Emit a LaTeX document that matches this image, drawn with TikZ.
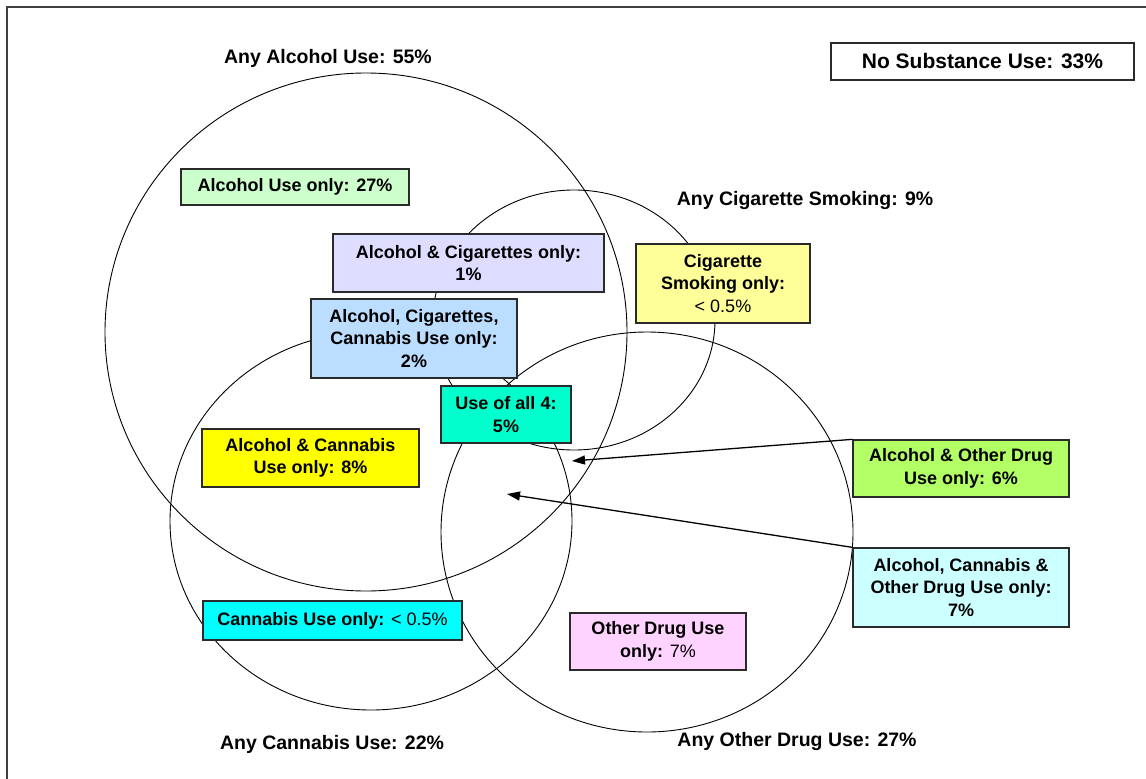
\documentclass[tikz,border=0pt]{standalone}
\usepackage{fontspec}
\setmainfont{Liberation Sans}
\usetikzlibrary{arrows.meta}
\definecolor{cAlcOnly}{HTML}{CCFFCC}
\definecolor{cAlcCig}{HTML}{DDDDFF}
\definecolor{cAlcCigCan}{HTML}{BBDDFF}
\definecolor{cAll}{HTML}{00FFCC}
\definecolor{cCig}{HTML}{FFFF99}
\definecolor{cAlcCan}{HTML}{FFFF00}
\definecolor{cAlcOther}{HTML}{B3FF66}
\definecolor{cAlcCanOther}{HTML}{CCFFFF}
\definecolor{cCan}{HTML}{00FFFF}
\definecolor{cOther}{HTML}{FFD3FF}
\definecolor{frameclr}{HTML}{404040}
\definecolor{boxline}{HTML}{2A2A2A}
\tikzset{
  setbox/.style={draw=boxline, line width=1.3pt, rectangle, inner sep=0pt, align=center,
    font=\fontsize{18}{22.5}\selectfont\bfseries},
  outerlabel/.style={inner sep=0pt, font=\fontsize{19.5}{23}\selectfont\bfseries},
  ring/.style={draw=black, line width=0.9pt},
  arr/.style={draw=black, line width=1.3pt, -{Triangle[length=13pt,width=9pt]}},
}
\begin{document}
\begin{tikzpicture}[x=1pt,y=-1pt]
\useasboundingbox (0,0) rectangle (1146,779);
\fill[white] (0,0) rectangle (1146,779);
% frame
\draw[frameclr, line width=2pt] (7,790) -- (7,7) -- (1160,7);
% sets
\draw[ring] (366,332) ellipse [x radius=261pt, y radius=259pt];
\draw[ring] (574,320) ellipse [x radius=141pt, y radius=130pt];
\draw[ring] (371,521) ellipse [x radius=201pt, y radius=189pt];
\draw[ring] (647,532) ellipse [x radius=206pt, y radius=200pt];
% outer labels
\node[outerlabel] (lalc) at (328,58) {Any Alcohol Use: 55\%};
\node[outerlabel] (lcig) at (805,200) {Any Cigarette Smoking: 9\%};
\node[outerlabel] (lcan) at (332,744) {Any Cannabis Use: 22\%};
\node[outerlabel] (loth) at (797,741) {Any Other Drug Use: 27\%};
% boxes
\node[setbox, fill=white, minimum width=303pt, minimum height=37pt,
  font=\fontsize{21}{25}\selectfont\bfseries] (nosub) at (982.5,61.5) {No Substance Use: 33\%};
\node[setbox, fill=cAlcOnly, minimum width=228pt, minimum height=36pt] (alcOnly) at (295,187) {Alcohol Use only: 27\%};
\node[setbox, fill=cAlcCig, minimum width=271pt, minimum height=58pt] (alcCig) at (468.5,263) {Alcohol \& Cigarettes only:\\1\%};
\node[setbox, fill=cAlcCigCan, minimum width=206pt, minimum height=79pt] (alcCigCan) at (414,338.5) {Alcohol, Cigarettes,\\Cannabis Use only:\\2\%};
\node[setbox, fill=cAll, minimum width=130pt, minimum height=57pt] (all4) at (506,414.5) {Use of all 4:\\5\%};
\node[setbox, fill=cCig, minimum width=174pt, minimum height=79pt] (cigOnly) at (723,283.5) {Cigarette\\Smoking only:\\{\mdseries < 0.5\%}};
\node[setbox, fill=cAlcCan, minimum width=217pt, minimum height=58pt] (alcCan) at (310.5,458) {Alcohol \& Cannabis\\Use only: 8\%};
\node[setbox, fill=cAlcOther, minimum width=216pt, minimum height=57pt] (alcOther) at (961,468.5) {Alcohol \& Other Drug\\Use only: 6\%};
\node[setbox, fill=cAlcCanOther, minimum width=216pt, minimum height=79pt] (alcCanOther) at (961,587.5) {Alcohol, Cannabis \&\\Other Drug Use only:\\7\%};
\node[setbox, fill=cCan, minimum width=259pt, minimum height=39pt] (canOnly) at (332.5,620.5) {Cannabis Use only: {\mdseries < 0.5\%}};
\node[setbox, fill=cOther, minimum width=176pt, minimum height=57pt] (otherOnly) at (658,641.5) {Other Drug Use\\only: {\mdseries 7\%}};
% arrows
\coordinate (tipA) at (572,461);
\coordinate (tipB) at (507,494);
\draw[arr] (alcOther.north west) -- (tipA);
\draw[arr] (alcCanOther.north west) -- (tipB);
\end{tikzpicture}
\end{document}
